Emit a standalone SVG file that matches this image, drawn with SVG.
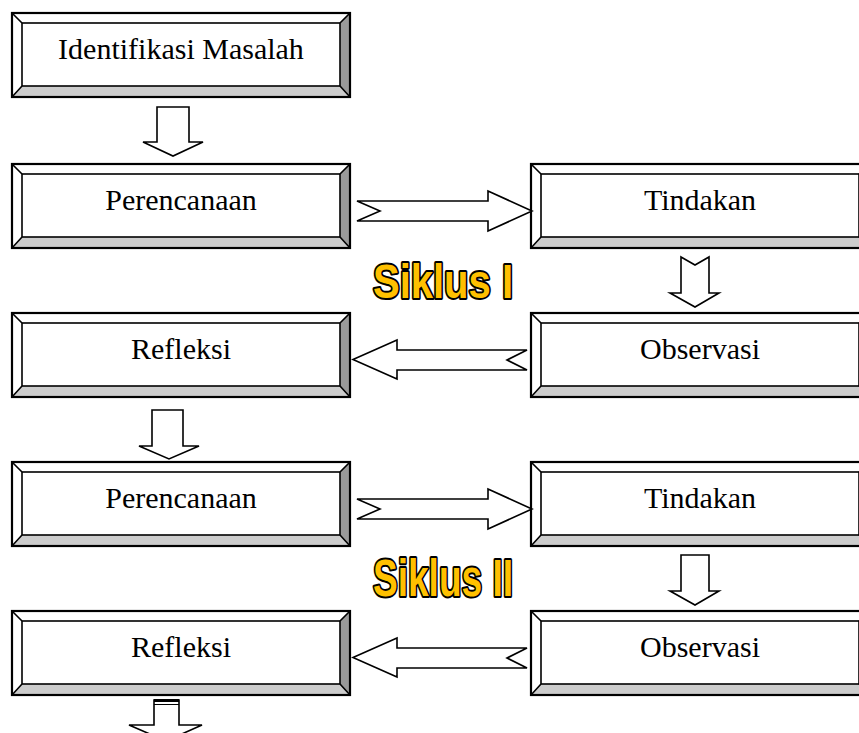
<svg xmlns="http://www.w3.org/2000/svg" xmlns:xlink="http://www.w3.org/1999/xlink" width="859" height="733" viewBox="0 0 859 733">
<style>
.lbl{font-family:"Liberation Serif","Times New Roman",serif;font-size:30px;fill:#000;text-anchor:middle}
.arr{fill:#fff;stroke:#000;stroke-width:1.6;stroke-linejoin:miter}
.sik{font-family:"Liberation Sans",Arial,sans-serif;font-weight:bold;fill:#FFC000;stroke:#000;stroke-width:4;paint-order:stroke fill;stroke-linejoin:round}
.ln{fill:none;stroke:#000;stroke-width:1.6}
</style>
<defs>
<g id="frame">
<polygon points="0,0 338,0 328,10 10,10" fill="#fff"/>
<polygon points="0,0 10,10 10,73 0,84" fill="#fff"/>
<polygon points="338,0 338,84 328,73 328,10" fill="#999"/>
<polygon points="0,84 10,73 328,73 338,84" fill="#ccc"/>
<rect x="10" y="10" width="318" height="63" fill="#fff" class="ln"/>
<path d="M0,0 L10,10 M338,0 L328,10 M0,84 L10,73 M338,84 L328,73" class="ln"/>
<rect x="0" y="0" width="338" height="84" fill="none" stroke="#000" stroke-width="2.2"/>
</g>
</defs>
<rect width="859" height="733" fill="#fff"/>
<g id="n-identifikasi" transform="translate(12,13)"><use xlink:href="#frame"/><text class="lbl" x="169" y="46">Identifikasi Masalah</text></g>
<g id="n-perencanaan1" transform="translate(12,164)"><use xlink:href="#frame"/><text class="lbl" x="169" y="46">Perencanaan</text></g>
<g id="n-tindakan1" transform="translate(531,164)"><use xlink:href="#frame"/><text class="lbl" x="169" y="46">Tindakan</text></g>
<g id="n-refleksi1" transform="translate(12,313)"><use xlink:href="#frame"/><text class="lbl" x="169" y="46">Refleksi</text></g>
<g id="n-observasi1" transform="translate(531,313)"><use xlink:href="#frame"/><text class="lbl" x="169" y="46">Observasi</text></g>
<g id="n-perencanaan2" transform="translate(12,462)"><use xlink:href="#frame"/><text class="lbl" x="169" y="46">Perencanaan</text></g>
<g id="n-tindakan2" transform="translate(531,462)"><use xlink:href="#frame"/><text class="lbl" x="169" y="46">Tindakan</text></g>
<g id="n-refleksi2" transform="translate(12,611)"><use xlink:href="#frame"/><text class="lbl" x="169" y="46">Refleksi</text></g>
<g id="n-observasi2" transform="translate(531,611)"><use xlink:href="#frame"/><text class="lbl" x="169" y="46">Observasi</text></g>
<g id="connectors">
<path class="arr" d="M157,107 H189 V142 H203 L173,156 L143,142 H157 Z"/>
<path class="arr" d="M357,201 H488 V191 L532,211 L488,231 V221 H357 L380,211 Z"/>
<path class="arr" d="M681,257 L695,265 L709,257 V293 H719 L695,307 L670,293 H681 Z"/>
<path class="arr" d="M527,350 H397 V340 L353,359.5 L397,379 V370 H527 L507,360 Z"/>
<path class="arr" d="M152,410 H183 V446 H199 L169,459 L139,446 H152 Z"/>
<path class="arr" d="M357,499 H488 V489 L532,509 L488,529 V519 H357 L380,509 Z"/>
<path class="arr" d="M681,555 H709 V591 H719 L695,605 L670,591 H681 Z"/>
<path class="arr" d="M527,648 H397 V638 L353,657.5 L397,677 V668 H527 L507,658 Z"/>
<path class="arr" d="M154,700 H179 V725 H202 L166,741 L129,725 H154 Z"/>
<rect x="154" y="699" width="25" height="3" fill="#000"/>
<line x1="154" y1="704.5" x2="179" y2="704.5" stroke="#000" stroke-width="1"/>
</g>
<text class="sik" x="373" y="298" font-size="49" textLength="140" lengthAdjust="spacingAndGlyphs">Siklus I</text>
<text class="sik" x="373" y="596" font-size="51" textLength="140" lengthAdjust="spacingAndGlyphs">Siklus II</text>
</svg>
